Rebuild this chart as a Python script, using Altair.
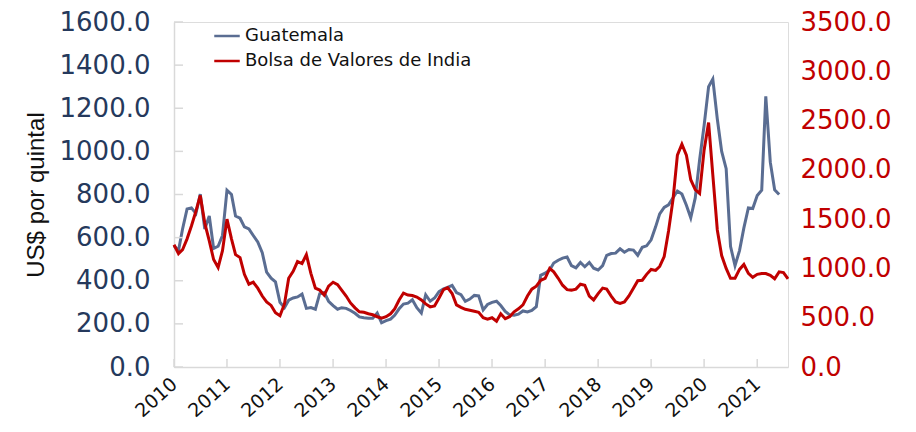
import altair as alt
import pandas as pd

# Monthly series, Jan 2010 onwards
guatemala = [
    562, 540, 640, 733, 738, 712, 802, 640, 700, 550, 560, 610,   # 2010
    820, 800, 700, 690, 650, 640, 610, 580, 530, 440, 412, 395,   # 2011
    300, 275, 310, 320, 325, 338, 272, 276, 268, 340, 345, 305,   # 2012
    285, 268, 275, 272, 262, 249, 232, 228, 226, 226, 250, 205,   # 2013
    215, 222, 240, 270, 292, 296, 312, 275, 250, 335, 305, 320,   # 2014
    350, 362, 369, 378, 345, 335, 305, 315, 332, 330, 265, 290,   # 2015
    300, 305, 285, 258, 242, 240, 245, 260, 255, 262, 280, 425,   # 2016
    435, 450, 482, 495, 505, 510, 470, 460, 485, 465, 485, 458,   # 2017
    450, 470, 518, 526, 528, 548, 532, 545, 542, 518, 555, 562,   # 2018
    590, 650, 710, 740, 752, 785, 816, 802, 750, 692, 784, 960,   # 2019
    1120, 1300, 1335, 1150, 1000, 920, 560, 470, 540, 645, 738, 735,  # 2020
    795, 820, 1255, 950, 822, 800,                                # 2021
]
india = [
    1240, 1150, 1190, 1300, 1430, 1580, 1740, 1460, 1280, 1090, 1010, 1180,  # 2010
    1500, 1300, 1140, 1110, 940, 840, 860, 800, 720, 660, 625, 550,          # 2011
    520, 640, 900, 970, 1070, 1050, 1140, 950, 800, 780, 730, 820,           # 2012
    860, 835, 780, 720, 650, 600, 560, 555, 540, 530, 510, 495,              # 2013
    510, 540, 590, 680, 750, 730, 725, 710, 680, 640, 610, 620,              # 2014
    700, 785, 805, 745, 630, 605, 585, 575, 565, 555, 500, 485,              # 2015
    500, 465, 540, 490, 510, 560, 590, 630, 720, 790, 820, 880,              # 2016
    900, 1000, 965, 900, 830, 785, 780, 790, 840, 830, 720, 680,             # 2017
    745, 800, 790, 720, 660, 645, 660, 720, 800, 875, 880, 940,              # 2018
    990, 980, 1020, 1120, 1380, 1700, 2150, 2260, 2150, 1900, 1800, 1760,    # 2019
    2200, 2480, 1950, 1390, 1130, 1000, 900, 900, 990, 1040, 950, 910,       # 2020
    940, 948, 948, 930, 895, 965, 958, 895,                                  # 2021
]
series_names = ["Guatemala", "Bolsa de Valores de India"]
series_colors = ["#5a6d92", "#c00000"]
years = list(range(2010, 2022))
left_ticks = list(range(0, 1601, 200))
right_ticks = list(range(0, 3501, 500))

g_df = pd.DataFrame({
    "fecha": pd.date_range("2010-01-01", periods=len(guatemala), freq="MS").strftime("%Y-%m-%d"),
    "valor": guatemala,
    "serie": series_names[0],
})
i_df = pd.DataFrame({
    "fecha": pd.date_range("2010-01-01", periods=len(india), freq="MS").strftime("%Y-%m-%d"),
    "valor": india,
    "serie": series_names[1],
})
year_df = pd.DataFrame({"fecha": [f"{y}-01-01" for y in years]})
ytick_df = pd.DataFrame({"valor": left_ticks})

H = 345
W = 614
xscale = alt.Scale(domain=[alt.DateTime(year=2010, month=1, date=1),
                           alt.DateTime(year=2021, month=8, date=1)])
color = alt.Color("serie:N",
                  scale=alt.Scale(domain=series_names, range=series_colors),
                  legend=alt.Legend(title=None, orient="none", legendX=39, legendY=0,
                                    symbolType="stroke", symbolSize=650,
                                    symbolStrokeWidth=2.5, labelFont="DejaVu Sans",
                                    labelFontSize=18, labelColor="#111111",
                                    labelLimit=500, rowPadding=2, labelOffset=4,
                                    padding=0))

x_axis = alt.Axis(values=[alt.DateTime(year=y, month=1, date=1) for y in years],
                  format="%Y", labelAngle=-42, labelAlign="right", labelBaseline="middle",
                  labelFont="DejaVu Sans", labelFontSize=19, labelColor="#111111",
                  labelPadding=14, labelOverlap=False, labelBound=False,
                  ticks=False, grid=False,
                  domainColor="#d9d9d9", domainWidth=1.5, title=None)

yscale_left = alt.Scale(domain=[0, 1600])
yscale_right = alt.Scale(domain=[0, 3500])

guat_line = alt.Chart(g_df).mark_line(strokeWidth=3).encode(
    x=alt.X("fecha:T", scale=xscale, axis=x_axis),
    y=alt.Y("valor:Q", scale=yscale_left,
            axis=alt.Axis(values=left_ticks, format=".1f", labelFont="DejaVu Sans",
                          labelFontSize=26, labelColor="#25395c", ticks=False,
                          grid=False, domainColor="#d9d9d9", domainWidth=1.5,
                          labelPadding=24, title="US$ por quintal",
                          titleFont="Liberation Sans", titleFontSize=24,
                          titleFontWeight="normal", titleColor="#111111",
                          titleX=-131, titleY=H / 2, titleAngle=-90,
                          titleBaseline="alphabetic")),
    color=color,
)

ytick_rules = alt.Chart(ytick_df).mark_rule(color="#d9d9d9", strokeWidth=1.5).encode(
    y=alt.Y("valor:Q", scale=yscale_left),
    x=alt.value(0), x2=alt.value(9),
)
xtick_rules = alt.Chart(year_df).mark_rule(color="#d9d9d9", strokeWidth=1.5).encode(
    x=alt.X("fecha:T", scale=xscale),
    y=alt.value(H - 8), y2=alt.value(H),
)

left_group = alt.layer(guat_line, ytick_rules, xtick_rules)

india_line = alt.Chart(i_df).mark_line(strokeWidth=3).encode(
    x=alt.X("fecha:T", scale=xscale),
    y=alt.Y("valor:Q", scale=yscale_right,
            axis=alt.Axis(orient="right", values=right_ticks, format=".1f",
                          labelFont="DejaVu Sans", labelFontSize=26,
                          labelColor="#c00000", ticks=False, grid=False,
                          domain=False, labelPadding=12, title=None)),
    color=color,
)

chart = alt.layer(left_group, india_line).resolve_scale(y="independent").properties(
    width=W, height=H,
    autosize=alt.AutoSizeParams(type="none"),
    padding={"left": 166, "top": 14, "right": 120, "bottom": 57},
).configure_view(stroke=None).configure(background="white")

chart.save("out.html", embed_options={"renderer": "svg", "actions": False})
